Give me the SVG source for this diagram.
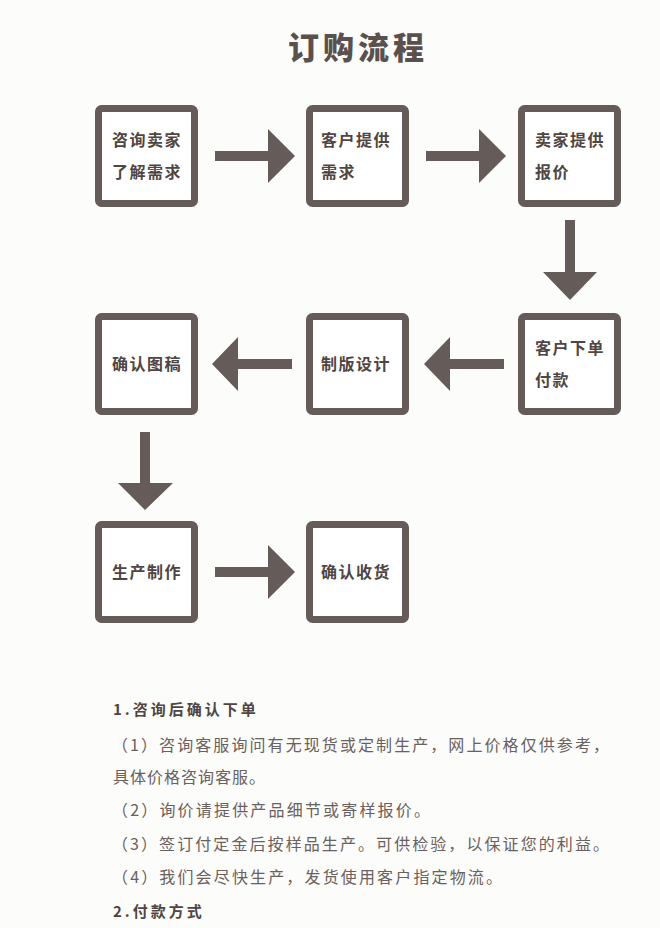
<svg xmlns="http://www.w3.org/2000/svg" width="660" height="928" viewBox="0 0 660 928">
<style>
.box{fill:#ffffff;stroke:#655b59;stroke-width:7}
.arr{fill:#655b59}
.lbl{font-family:"Noto Sans CJK SC","Noto Sans CJK JP",sans-serif;font-weight:700;font-size:16px;fill:#4f4543;letter-spacing:1.5px}
.ttl{font-family:"Noto Sans CJK SC","Noto Sans CJK JP",sans-serif;font-weight:900;font-size:31px;fill:#5a504e;letter-spacing:4px}
.hd{font-family:"Noto Sans CJK SC","Noto Sans CJK JP",sans-serif;font-weight:700;font-size:15px;fill:#4f4543;letter-spacing:3px}
.bd{font-family:"Noto Sans CJK SC","Noto Sans CJK JP",sans-serif;font-weight:400;font-size:16px;fill:#6a605e}
</style>
<rect x="0" y="0" width="660" height="928" fill="#fcfcfa"/>
<text class="ttl" x="358" y="59" text-anchor="middle">订购流程</text>

<g id="n1"><rect class="box" x="98.5" y="108.5" width="96" height="95" rx="3"/><text class="lbl" x="112" y="146">咨询卖家</text><text class="lbl" x="112" y="178">了解需求</text></g>
<g id="n2"><rect class="box" x="309.5" y="108.5" width="96" height="95" rx="3"/><text class="lbl" x="321" y="146">客户提供</text><text class="lbl" x="321" y="178">需求</text></g>
<g id="n3"><rect class="box" x="521.5" y="108.5" width="96" height="95" rx="3"/><text class="lbl" x="535" y="146">卖家提供</text><text class="lbl" x="535" y="178">报价</text></g>
<g id="n4"><rect class="box" x="521.5" y="316.5" width="96" height="95" rx="3"/><text class="lbl" x="535" y="354">客户下单</text><text class="lbl" x="535" y="386">付款</text></g>
<g id="n5"><rect class="box" x="309.5" y="316.5" width="96" height="95" rx="3"/><text class="lbl" x="321" y="370">制版设计</text></g>
<g id="n6"><rect class="box" x="98.5" y="316.5" width="96" height="95" rx="3"/><text class="lbl" x="112" y="370">确认图稿</text></g>
<g id="n7"><rect class="box" x="98.5" y="524.5" width="96" height="95" rx="3"/><text class="lbl" x="112" y="578">生产制作</text></g>
<g id="n8"><rect class="box" x="309.5" y="524.5" width="96" height="95" rx="3"/><text class="lbl" x="321" y="578">确认收货</text></g>

<g id="connectors">
<polygon class="arr" points="215,151 268,151 268,129 295,156 268,183 268,161 215,161"/>
<polygon class="arr" points="426,151 479,151 479,129 506,156 479,183 479,161 426,161"/>
<polygon class="arr" points="565,220 575,220 575,272 597,272 570,300 543,272 565,272"/>
<polygon class="arr" points="504,359 450,359 450,337 424,364 450,391 450,369 504,369"/>
<polygon class="arr" points="292,359 238,359 238,337 212,364 238,391 238,369 292,369"/>
<polygon class="arr" points="140,432 150,432 150,483 173,483 145,510 118,483 140,483"/>
<polygon class="arr" points="215,567 268,567 268,545 295,572 268,599 268,577 215,577"/>
</g>

<text class="hd" x="113" y="715">1.咨询后确认下单</text>
<text class="bd" x="112" y="751" textLength="497" lengthAdjust="spacing">（1）咨询客服询问有无现货或定制生产，网上价格仅供参考，</text>
<text class="bd" x="113" y="783" textLength="152" lengthAdjust="spacing">具体价格咨询客服。</text>
<text class="bd" x="112" y="816" textLength="318" lengthAdjust="spacing">（2）询价请提供产品细节或寄样报价。</text>
<text class="bd" x="112" y="850" textLength="497" lengthAdjust="spacing">（3）签订付定金后按样品生产。可供检验，以保证您的利益。</text>
<text class="bd" x="112" y="883" textLength="390" lengthAdjust="spacing">（4）我们会尽快生产，发货使用客户指定物流。</text>
<text class="hd" x="113" y="917">2.付款方式</text>
</svg>
